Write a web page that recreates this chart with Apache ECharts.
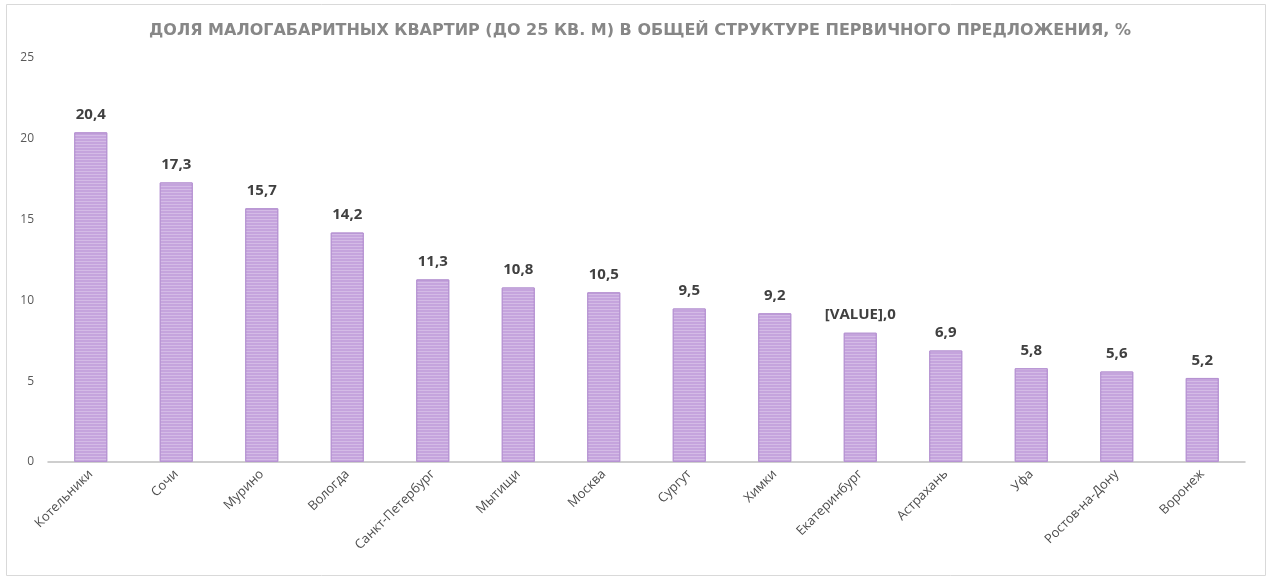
<!DOCTYPE html>
<html>
<head>
<meta charset="utf-8">
<script src="https://cdn.jsdelivr.net/npm/echarts@6/dist/echarts.min.js"></script>
<style>
html,body{margin:0;padding:0;background:#fff;}
#chart{width:1280px;height:582px;}
</style>
</head>
<body>
<div id="chart"></div>
<script>
var cities = ['Котельники','Сочи','Мурино','Вологда','Санкт-Петербург','Мытищи','Москва','Сургут','Химки','Екатеринбург','Астрахань','Уфа','Ростов-на-Дону','Воронеж'];
var values = [20.4,17.3,15.7,14.2,11.3,10.8,10.5,9.5,9.2,8.0,6.9,5.8,5.6,5.2];
var labels = ['20,4','17,3','15,7','14,2','11,3','10,8','10,5','9,5','9,2','[VALUE],0','6,9','5,8','5,6','5,2'];
var yTicks = [0,5,10,15,20,25];

window.onload=function(){
    var myChart = echarts.init(document.getElementById('chart'));
    var option = {
        animation: false,
        textStyle: {fontFamily: 'Open Sans'},
        title: {
            text: 'ДОЛЯ МАЛОГАБАРИТНЫХ КВАРТИР (ДО 25 КВ. М) В ОБЩЕЙ СТРУКТУРЕ ПЕРВИЧНОГО ПРЕДЛОЖЕНИЯ, %',
            left: 'center',
            top: 18,
            textStyle: {fontFamily: 'DejaVu Sans', fontSize: 16, fontWeight: 'bold', color: '#878787'}
        },
        graphic: [{
            type: 'rect',
            shape: {x: 6.5, y: 4.5, width: 1259, height: 571},
            style: {fill: 'none', stroke: '#d9d9d9', lineWidth: 1},
            silent: true
        }],
        grid: {left: 48, right: 35, top: 58, bottom: 120},
        xAxis: {
            type: 'category',
            data: cities,
            axisLine: {lineStyle: {color: '#bfbfbf', width: 1.5}},
            axisTick: {show: false},
            axisLabel: {rotate: 45, color: '#4d4d4d', fontSize: 13, margin: 10, interval: 0}
        },
        yAxis: {
            type: 'value',
            min: yTicks[0],
            max: yTicks[yTicks.length - 1],
            interval: 5,
            splitLine: {show: false},
            axisLine: {show: false},
            axisTick: {show: false},
            axisLabel: {color: '#595959', fontSize: 12, margin: 14}
        },
        series: [{
            type: 'bar',
            data: values,
            barWidth: 33,
            itemStyle: {
                color: '#c5a4dd',
                borderColor: '#b693d2',
                borderWidth: 1,
                decal: {
                    symbol: 'rect',
                    color: 'rgba(255,255,255,0.25)',
                    dashArrayX: [1, 0],
                    dashArrayY: [1, 2],
                    rotation: 0
                }
            },
            label: {
                show: true,
                position: 'top',
                distance: 10,
                fontSize: 15,
                fontWeight: 'bold',
                color: '#404040',
                formatter: function (p) { return labels[p.dataIndex]; }
            }
        }]
    };
    myChart.setOption(option);
};
</script>
</body>
</html>
